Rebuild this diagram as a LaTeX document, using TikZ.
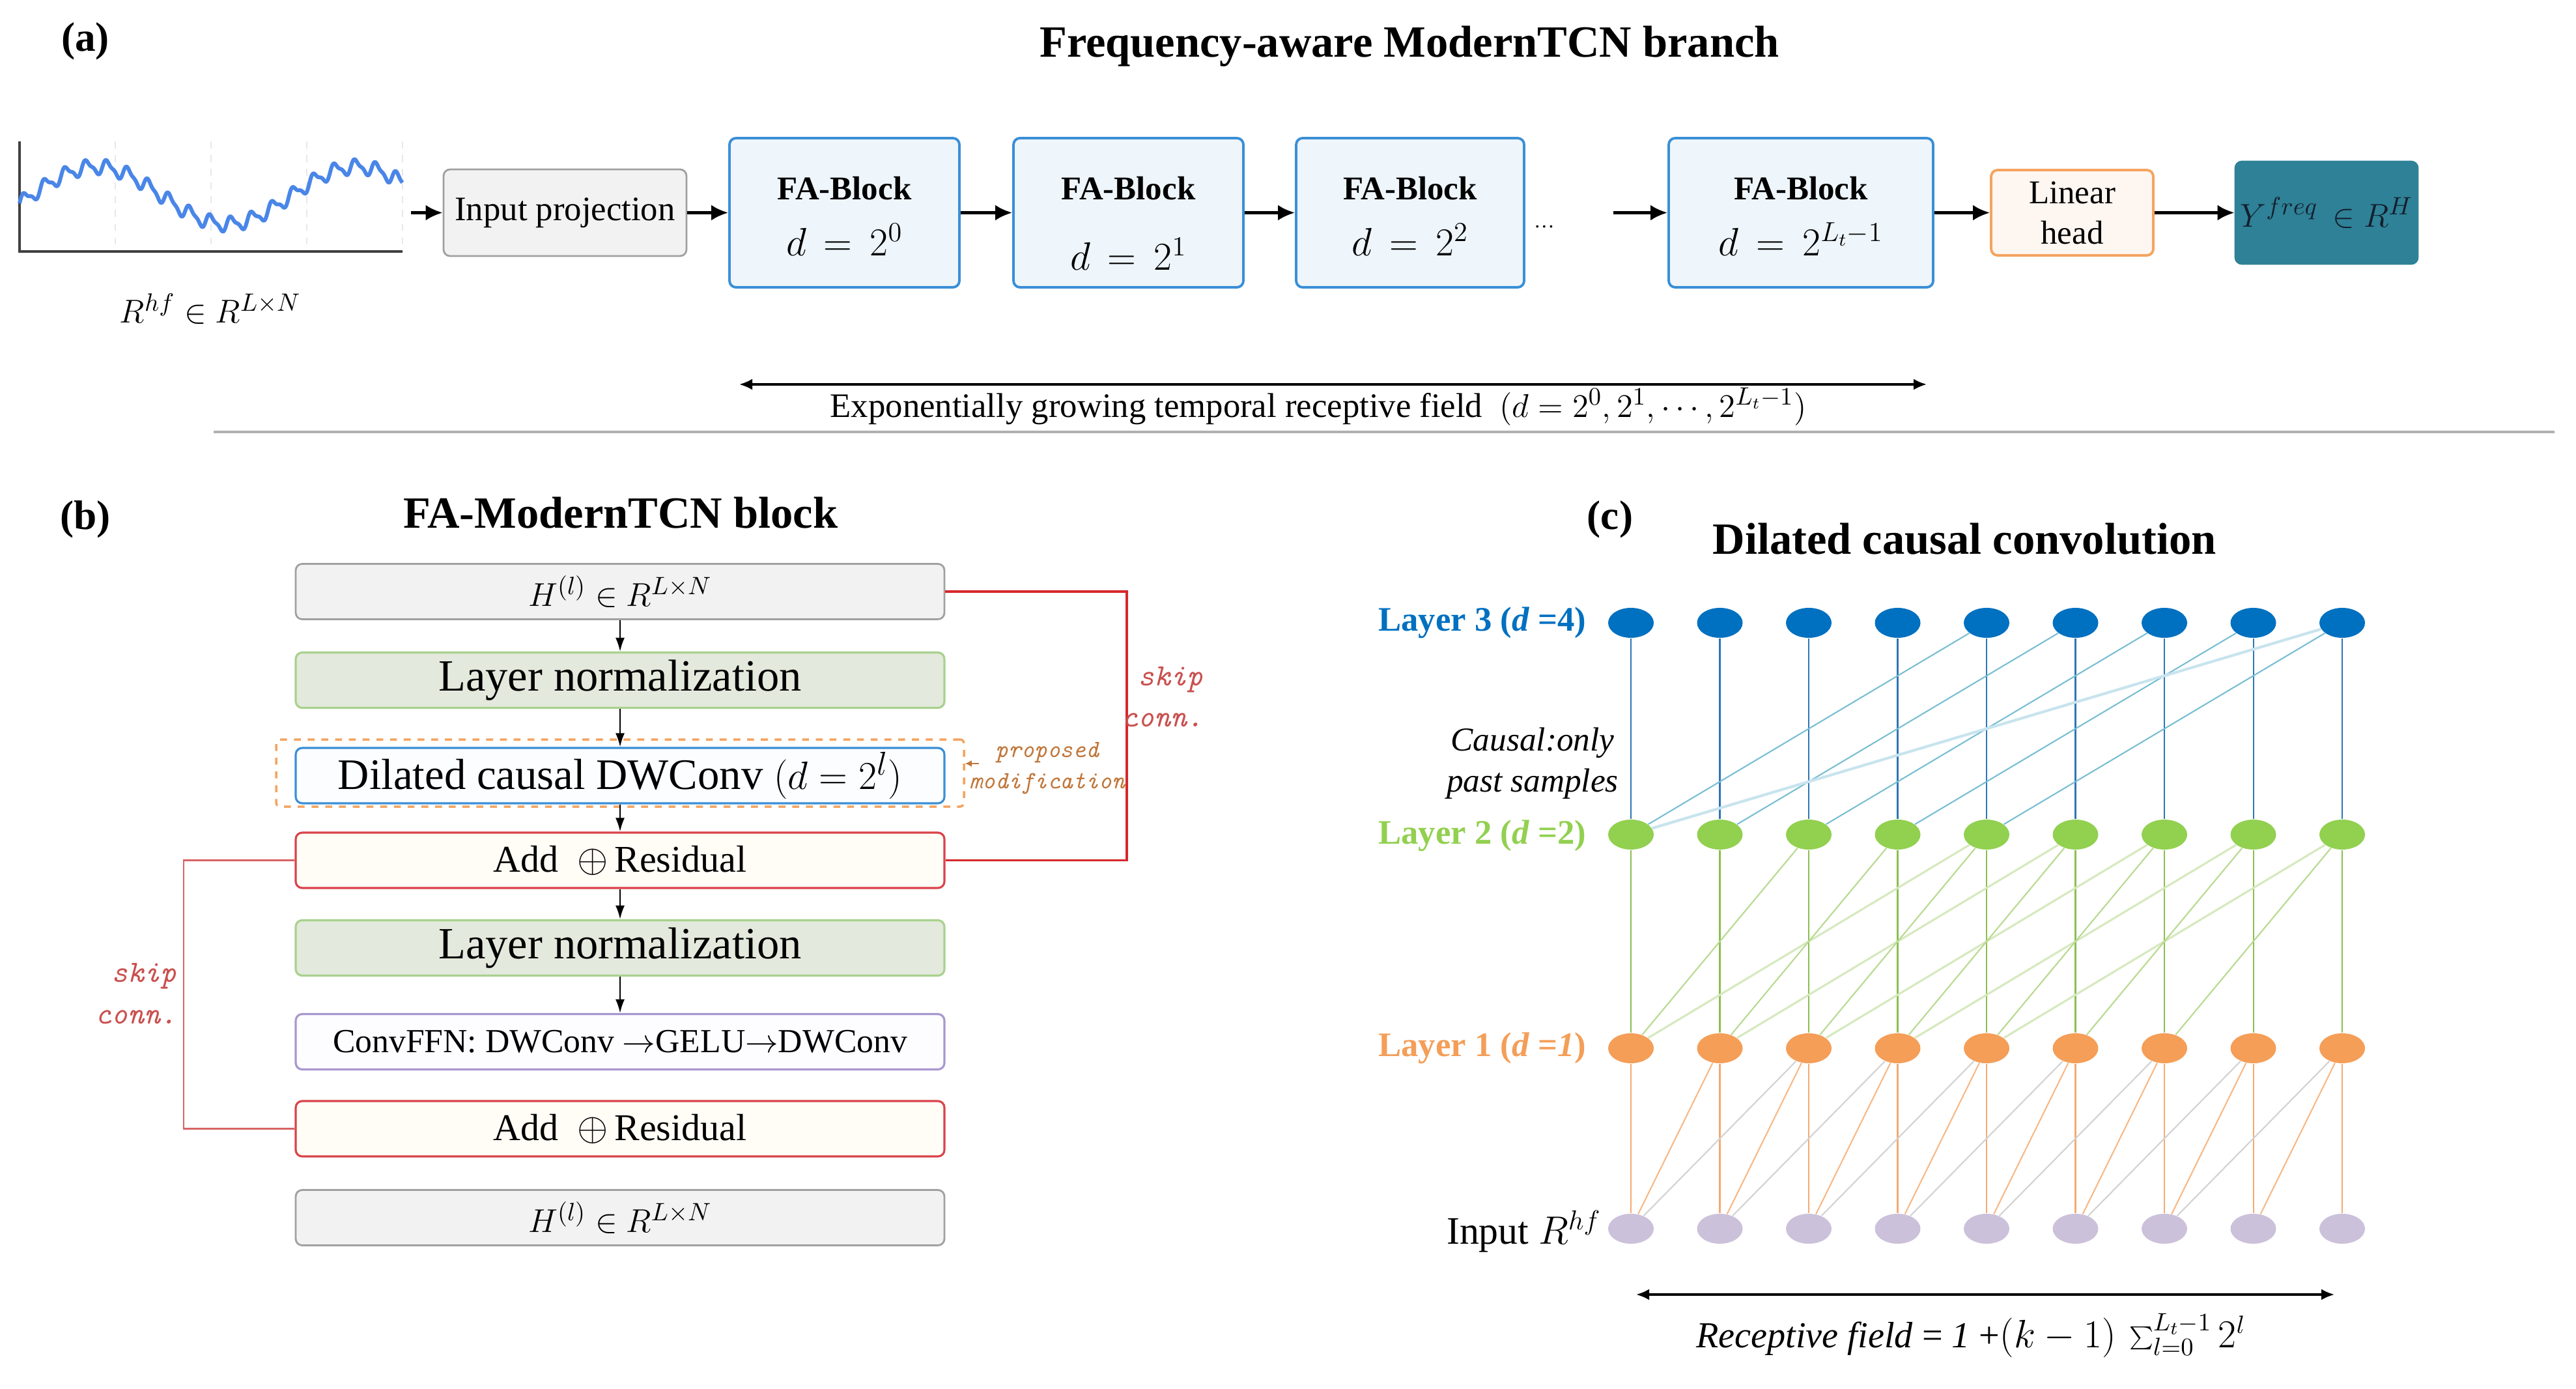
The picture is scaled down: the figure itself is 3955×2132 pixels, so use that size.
\documentclass[tikz,border=0pt]{standalone}
\usepackage{fontspec}
\setmainfont{Liberation Serif}
\usetikzlibrary{arrows.meta,shapes.geometric,calc}
\newcommand{\myfs}[2]{\fontsize{#1}{#2}\selectfont}
\definecolor{cgrayfill}{RGB}{242,242,242}
\definecolor{cgraydraw}{RGB}{160,160,160}
\definecolor{cfafill}{RGB}{238,245,251}
\definecolor{cfadraw}{RGB}{58,143,214}
\definecolor{clhfill}{RGB}{254,246,240}
\definecolor{clhdraw}{RGB}{244,164,96}
\definecolor{cteal}{RGB}{46,129,150}
\definecolor{clnfill}{RGB}{227,233,220}
\definecolor{clndraw}{RGB}{169,209,142}
\definecolor{cdilfill}{RGB}{251,253,255}
\definecolor{caddfill}{RGB}{255,253,246}
\definecolor{caddraw}{RGB}{217,67,74}
\definecolor{cffnfill}{RGB}{253,252,255}
\definecolor{cffndraw}{RGB}{168,151,207}
\definecolor{cskipR}{RGB}{214,40,44}
\definecolor{cskipL}{RGB}{215,100,100}
\definecolor{cskiptxt}{RGB}{201,80,79}
\definecolor{cprop}{RGB}{192,118,58}
\definecolor{cdash}{RGB}{244,164,96}
\definecolor{cwave}{RGB}{74,134,232}
\definecolor{cthree}{RGB}{0,112,192}
\definecolor{ctwo}{RGB}{146,208,80}
\definecolor{cone}{RGB}{244,158,88}
\definecolor{cin}{RGB}{204,193,218}
\definecolor{cvthree}{RGB}{46,117,182}
\definecolor{cdthree}{RGB}{120,190,210}
\definecolor{cdthreelong}{RGB}{200,228,238}
\definecolor{cvtwo}{RGB}{140,190,80}
\definecolor{cdtwoa}{RGB}{184,217,143}
\definecolor{cdtwob}{RGB}{214,233,191}
\definecolor{cvone}{RGB}{244,170,115}
\definecolor{cdonea}{RGB}{246,185,135}
\definecolor{cdoneb}{RGB}{210,210,210}
\definecolor{csep}{RGB}{176,176,176}
\begin{document}
\begin{tikzpicture}[x=0.1mm,y=-0.1mm,
  basebox/.style={draw, rounded corners=1mm, inner sep=0pt},
  graybox/.style={basebox, fill=cgrayfill, draw=cgraydraw, line width=0.8pt},
  fabox/.style={basebox, fill=cfafill, draw=cfadraw, line width=1.1pt, minimum height=22.9mm},
  lhbox/.style={basebox, fill=clhfill, draw=clhdraw, line width=1.1pt},
  ybox/.style={basebox, fill=cteal, draw=cteal, line width=0.8pt},
  bw/.style={minimum width=99.6mm, minimum height=8.5mm},
  lnbox/.style={basebox, bw, fill=clnfill, draw=clndraw, line width=0.9pt},
  dilbox/.style={basebox, bw, fill=cdilfill, draw=cfadraw, line width=0.9pt},
  addbox/.style={basebox, bw, fill=caddfill, draw=caddraw, line width=0.9pt},
  ffnbox/.style={basebox, bw, fill=cffnfill, draw=cffndraw, line width=0.9pt},
  dashbox/.style={draw=cdash, dashed, rounded corners=0.6mm, line width=1pt, inner sep=0pt},
  arrA/.style={-{Latex[length=2.6mm,width=2.4mm]}, line width=1.2pt},
  arrB/.style={-{Latex[length=2.1mm,width=1.4mm]}, line width=0.6pt},
  darr/.style={{Latex[length=2mm,width=1.7mm]}-{Latex[length=2mm,width=1.7mm]}, line width=0.9pt},
  sepline/.style={draw=csep, line width=1.1pt},
  skipR/.style={draw=cskipR, line width=1.1pt},
  skipL/.style={draw=cskipL, line width=0.8pt},
  skiptxt/.style={text=cskiptxt, font=\ttfamily\itshape\myfs{13.5}{18}, inner sep=0pt},
  proptxt/.style={text=cprop, font=\ttfamily\itshape\myfs{10.8}{13.7}, inner sep=0pt},
  proparr/.style={draw=cprop, -{Latex[length=1mm,width=1mm]}, line width=0.4pt},
  titletxt/.style={font=\bfseries\myfs{19.5}{23}},
  paneltxt/.style={font=\bfseries\myfs{18}{21}},
  nd/.style={ellipse, minimum width=7mm, minimum height=4.6mm, inner sep=0pt, draw=none},
  v3/.style={draw=cvthree, line width=0.6pt},
  d3/.style={draw=cdthree, line width=0.6pt},
  d3long/.style={draw=cdthreelong, line width=1.2pt},
  v2/.style={draw=cvtwo, line width=0.6pt},
  d2a/.style={draw=cdtwoa, line width=0.6pt},
  d2b/.style={draw=cdtwob, line width=0.9pt},
  v1/.style={draw=cvone, line width=0.6pt},
  d1a/.style={draw=cdonea, line width=0.6pt},
  d1b/.style={draw=cdoneb, line width=0.6pt},
  laytxt/.style={anchor=east, inner sep=0pt, font=\bfseries\myfs{15}{18}}
]
\useasboundingbox (0,0) rectangle (3955,2132);

% ================= (a) =================
\node[paneltxt] (pa) at (131,63) {(a)};
\node[titletxt] (ta) at (2164,71) {Frequency-aware ModernTCN branch};

% waveform plot
\foreach \gx in {177,324,471,618} \draw[draw={rgb,255:red,232;green,232;blue,232}, dashed, line width=0.4pt] (\gx,217) -- (\gx,386);
\draw[draw={rgb,255:red,64;green,64;blue,64}, line width=0.9pt] (30,217) -- (30,386) -- (618,386);
\draw[cwave, line width=1.7pt, line join=round] plot[domain=0:1, samples=420] ({30+588*\x}, {300-44*cos(360*(\x-0.2)/0.68)-10*sin(360*18.5*\x)-3.5*sin(720*18.5*\x)});
\coordinate (plotend) at (631,326.5);
\node[font=\myfs{15.5}{19}] (rhf) at (323,474) {$R^{hf}\in R^{L\times N}$};

\node[graybox, minimum width=37.3mm, minimum height=13.3mm, font=\myfs{15}{18}] (inproj) at (867.5,326.5) {Input projection};

\node[fabox, minimum width=35.3mm] (fa1) at (1296.5,326.5) {};
\node[fabox, minimum width=35.3mm] (fa2) at (1732.5,326.5) {};
\node[fabox, minimum width=35.0mm] (fa3) at (2165,326.5) {};
\node[fabox, minimum width=40.6mm] (fa4) at (2765,326.5) {};
\node[anchor=base, font=\bfseries\myfs{14.5}{17}] (fa1a) at (1296.5,307) {FA-Block};
\node[anchor=base, font=\bfseries\myfs{14.5}{17}] (fa2a) at (1732.5,307) {FA-Block};
\node[anchor=base, font=\bfseries\myfs{14.5}{17}] (fa3a) at (2165,307) {FA-Block};
\node[anchor=base, font=\bfseries\myfs{14.5}{17}] (fa4a) at (2765,307) {FA-Block};
\node[anchor=base, font=\myfs{16.5}{19}] (fa1b) at (1296.5,393) {$d\,=\,2^{0}$};
\node[anchor=base, font=\myfs{16.5}{19}] (fa2b) at (1732.5,415) {$d\,=\,2^{1}$};
\node[anchor=base, font=\myfs{16.5}{19}] (fa3b) at (2165,393) {$d\,=\,2^{2}$};
\node[anchor=base, font=\myfs{16.5}{19}] (fa4b) at (2765,393) {$d\,=\,2^{L_t-1}$};
\node[anchor=base, font=\myfs{9}{10}] (dots) at (2371,350) {\ldots};
\coordinate (dotsout) at (2477,326.5);

\node[lhbox, minimum width=24.9mm, minimum height=13.1mm, align=center, font=\myfs{14.5}{17.6}] (lin) at (3181.5,326.5) {Linear\\head};
\node[ybox, minimum width=28mm, minimum height=15.7mm, font=\myfs{15}{18}, text={rgb,255:red,20;green,30;blue,45}] (yout) at (3572,326.5) {$Y^{freq}\,\in R^{H}$};

\draw[arrA] (plotend) -- (inproj);
\draw[arrA] (inproj) -- (fa1);
\draw[arrA] (fa1) -- (fa2);
\draw[arrA] (fa2) -- (fa3);
\draw[arrA] (dotsout) -- (fa4);
\draw[arrA] (fa4) -- (lin);
\draw[arrA] (lin) -- (yout);

\coordinate (ga) at (1135,590);
\coordinate (gb) at (2958,590);
\draw[darr] (ga) -- (gb);
\node[font=\myfs{15}{18}] (gtxt) at (2024,624) {Exponentially growing temporal receptive field\ \ $(d=2^{0},2^{1},\cdots,2^{L_t-1})$};

\coordinate (sepl) at (328,663);
\coordinate (sepr) at (3922,663);
\draw[sepline] (sepl) -- (sepr);

% ================= (b) =================
\node[paneltxt] (pb) at (131,797) {(b)};
\node[titletxt] (tb) at (953,787) {FA-ModernTCN block};

\node[graybox, bw, font=\myfs{15.5}{18}] (htop) at (952,908) {$H^{(l)}\in R^{L\times N}$};
\node[lnbox, font=\myfs{19.5}{23}] (ln1) at (952,1044) {Layer normalization};
\node[dashbox, minimum width=105.6mm, minimum height=10.3mm] (dashfr) at (952,1186.5) {};
\node[dilbox, font=\myfs{19}{23}] (dil) at (952,1190.5) {Dilated causal DWConv $(d=2^{l})$};
\node[addbox, font=\myfs{16.5}{19}] (add1) at (952,1320.5) {Add\enspace$\oplus$\,Residual};
\node[lnbox, font=\myfs{19.5}{23}] (ln2) at (952,1455) {Layer normalization};
\node[ffnbox, font=\myfs{14.7}{17}] (ffn) at (952,1599) {ConvFFN: DWConv $\rightarrow$GELU$\rightarrow$DWConv};
\node[addbox, font=\myfs{16.5}{19}] (add2) at (952,1732.5) {Add\enspace$\oplus$\,Residual};
\node[graybox, bw, font=\myfs{15.5}{18}] (hbot) at (952,1869) {$H^{(l)}\in R^{L\times N}$};

\draw[arrB] (htop) -- (ln1);
\draw[arrB] (ln1) -- (dil);
\draw[arrB] (dil) -- (add1);
\draw[arrB] (add1) -- (ln2);
\draw[arrB] (ln2) -- (ffn);

\coordinate (sr) at (1730,908);
\draw[skipR] (htop.east) -- (sr) |- (add1.east);
\coordinate (sl) at (282,1320.5);
\draw[skipL] (add1.west) -- (sl) |- (add2.west);
\node[skiptxt, anchor=east, align=right] (skr) at (1848,1070) {skip\\conn.};
\node[skiptxt, anchor=east, align=right] (skl) at (272,1525) {skip\\conn.};
\node[proptxt, align=center] (prop) at (1608,1179) {proposed\\modification};
\coordinate (parr) at (1503,1172);
\draw[proparr] (parr) -- (parr -| dashfr.east);

% ================= (c) =================
\node[paneltxt] (pc) at (2472,797) {(c)};
\node[titletxt] (tc) at (3016,827) {Dilated causal convolution};

\foreach \i in {1,...,9} {
  \pgfmathsetmacro\xx{2504+136.5*(\i-1)}
  \node[nd, fill=cthree] (t\i) at (\xx,956) {};
  \node[nd, fill=ctwo] (s\i) at (\xx,1281) {};
  \node[nd, fill=cone] (f\i) at (\xx,1609) {};
  \node[nd, fill=cin] (p\i) at (\xx,1886) {};
}
\foreach \i in {1,...,9} {
  \draw[v3] (t\i) -- (s\i);
  \draw[v2] (s\i) -- (f\i);
  \draw[v1] (f\i) -- (p\i);
}
\foreach \i in {5,...,9} {
  \pgfmathtruncatemacro\j{\i-4}
  \draw[d3] (t\i) -- (s\j);
  \draw[d2b] (s\i) -- (f\j);
}
\draw[d3long] (t9) -- (s1);
\foreach \i in {3,...,9} {
  \pgfmathtruncatemacro\j{\i-2}
  \draw[d2a] (s\i) -- (f\j);
  \draw[d1b] (f\i) -- (p\j);
}
\foreach \i in {2,...,9} {
  \pgfmathtruncatemacro\j{\i-1}
  \draw[d1a] (f\i) -- (p\j);
}

\node[laytxt, text=cthree] (lab3) at (2436,956) {Layer 3 (\textit{d} =4)};
\node[laytxt, text=ctwo] (lab2) at (2436,1283) {Layer 2 (\textit{d} =2)};
\node[laytxt, text=cone] (lab1) at (2436,1609) {Layer 1 (\textit{d} =\textit{1})};
\node[anchor=east, inner sep=0pt, font=\myfs{17}{20}] (labin) at (2459,1890) {Input $R^{hf}$};
\node[align=center, font=\itshape\myfs{14.6}{18}] (causal) at (2353,1172) {Causal:only\\past samples};

\coordinate (rfa) at (2512,1987);
\coordinate (rfb) at (3584,1987);
\draw[darr] (rfa) -- (rfb);
\node[font=\myfs{16}{19}] (rf) at (3026,2050) {\textit{Receptive field} = \textit{1} +$(k-1)\,\sum_{l=0}^{L_t-1}2^{l}$};
\end{tikzpicture}
\end{document}
